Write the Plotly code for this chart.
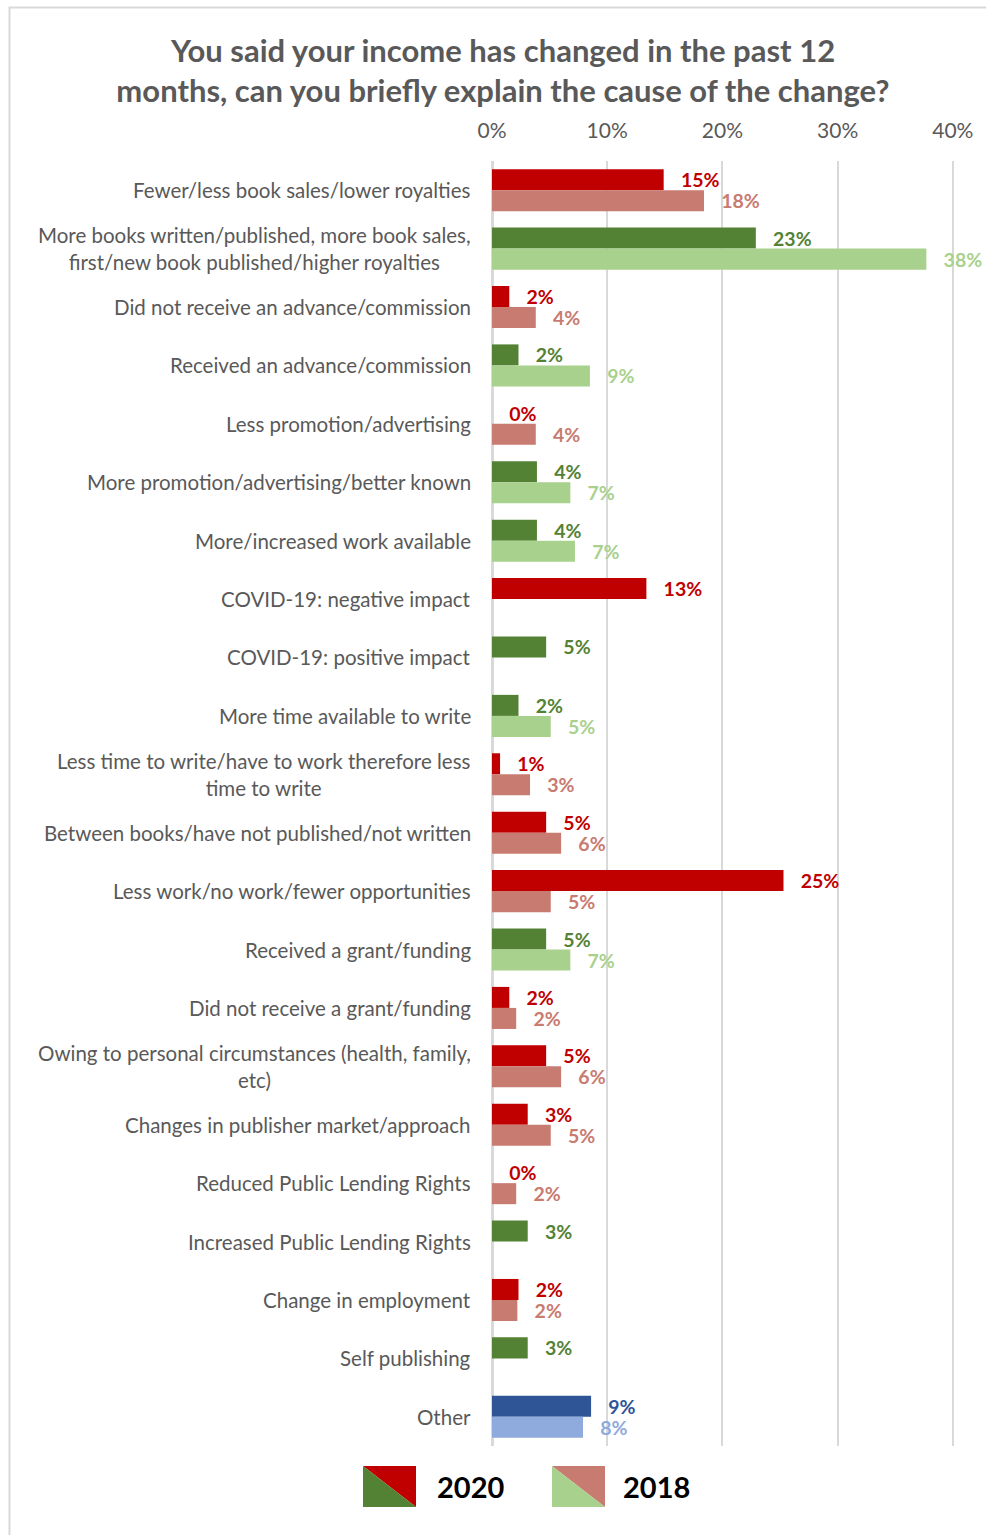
import plotly.graph_objects as go

categories = [
    "Fewer/less book sales/lower royalties",
    "More books written/published, more book sales,<br>first/new book published/higher royalties",
    "Did not receive an advance/commission",
    "Received an advance/commission",
    "Less promotion/advertising",
    "More promotion/advertising/better known",
    "More/increased work available",
    "COVID-19: negative impact",
    "COVID-19: positive impact",
    "More time available to write",
    "Less time to write/have to work therefore less<br>time to write",
    "Between books/have not published/not written",
    "Less work/no work/fewer opportunities",
    "Received a grant/funding",
    "Did not receive a grant/funding",
    "Owing to personal circumstances (health, family,<br>etc)",
    "Changes in publisher market/approach",
    "Reduced Public Lending Rights",
    "Increased Public Lending Rights",
    "Change in employment",
    "Self publishing",
    "Other",
]
# kind of change: n = negative, p = positive, o = other
kinds = ["n", "p", "n", "p", "n", "p", "p", "n", "p", "p", "n",
         "n", "n", "p", "n", "n", "n", "n", "p", "n", "p", "o"]

values_2020 = [14.9, 22.9, 1.5, 2.3, 0.0, 3.9, 3.9, 13.4, 4.7, 2.3, 0.7,
               4.7, 25.3, 4.7, 1.5, 4.7, 3.1, 0.0, 3.1, 2.3, 3.1, 8.6]
values_2018 = [18.4, 37.7, 3.8, 8.5, 3.8, 6.8, 7.2, None, None, 5.1, 3.3,
               6.0, 5.1, 6.8, 2.1, 6.0, 5.1, 2.1, None, 2.2, None, 7.9]

tick_vals = [0, 10, 20, 30, 40]
tick_text = ["0%", "10%", "20%", "30%", "40%"]

title_text = ("You said your income has changed in the past 12<br>"
              "months, can you briefly explain the cause of the change?")

colors_2020 = {"n": "#C00000", "p": "#548235", "o": "#2F5597"}
colors_2018 = {"n": "#C87B70", "p": "#A9D18E", "o": "#8FAADC"}

c20 = [colors_2020[k] for k in kinds]
c18 = [colors_2018[k] for k in kinds]

FONT = "Lato"
GREY = "#595959"

# page geometry (pixels)
W, H = 986, 1535
ML, MR, MT, MB = 492, 32, 161, 89
PW, PH = W - ML - MR, H - MT - MB


def px_x(px):
    return (px - ML) / PW


def px_y(py):
    return (H - MB - py) / PH


fig = go.Figure()
fig.add_trace(go.Bar(
    name="2020", y=categories, x=values_2020, orientation="h",
    marker=dict(color=c20, line=dict(width=0)),
    text=values_2020, texttemplate="\u00a0\u00a0\u00a0%{x:.0f}%",
    textposition="outside", cliponaxis=False, constraintext="none",
    textfont=dict(family=FONT, size=19.5, color=c20, weight="bold"),
    hoverinfo="skip",
))
fig.add_trace(go.Bar(
    name="2018", y=categories, x=values_2018, orientation="h",
    marker=dict(color=c18, line=dict(width=0)),
    text=values_2018, texttemplate="\u00a0\u00a0\u00a0%{x:.0f}%",
    textposition="outside", cliponaxis=False, constraintext="none",
    textfont=dict(family=FONT, size=19.5, color=c18, weight="bold"),
    hoverinfo="skip",
))

annotations = []
for cat in categories:
    annotations.append(dict(
        x=0, xref="paper", y=cat, yref="y", xanchor="right", yanchor="middle",
        xshift=-19, text=cat, showarrow=False, align="center",
        font=dict(family=FONT, size=20.5, color=GREY),
    ))

shapes = []
# outer border
shapes.append(dict(type="rect", xref="paper", yref="paper",
                   x0=px_x(9.5), x1=px_x(1000), y0=px_y(1600), y1=px_y(7.5),
                   line=dict(color="#D9D9D9", width=2), fillcolor="rgba(0,0,0,0)",
                   layer="below"))


def tri_path(pts):
    s = "M " + " L ".join(f"{px_x(a)},{px_y(b)}" for a, b in pts) + " Z"
    return s


legend_items = [
    ("2020", 363, colors_2020["n"], colors_2020["p"], 435),
    ("2018", 552, colors_2018["n"], colors_2018["p"], 621),
]
for label, x0, cr, cg, tx in legend_items:
    x1 = x0 + 53
    y0, y1 = 1466, 1507
    shapes.append(dict(type="path", xref="paper", yref="paper",
                       path=tri_path([(x0, y0), (x1, y0), (x1, y1)]),
                       fillcolor=cr, line=dict(width=0)))
    shapes.append(dict(type="path", xref="paper", yref="paper",
                       path=tri_path([(x0, y0), (x0, y1), (x1, y1)]),
                       fillcolor=cg, line=dict(width=0)))
    annotations.append(dict(
        x=px_x(tx), y=px_y(1487), xref="paper", yref="paper",
        xanchor="left", yanchor="middle", text=label, showarrow=False,
        font=dict(family=FONT, size=29, color="#000000", weight="bold"),
    ))

fig.update_layout(
    width=W, height=H,
    margin=dict(l=ML, r=MR, t=MT, b=MB, pad=0),
    paper_bgcolor="white", plot_bgcolor="white",
    barmode="group", bargap=0.28, bargroupgap=0,
    showlegend=False,
    title=dict(text=title_text, x=503 / W, xanchor="center",
               y=1 - 62 / H, yanchor="middle", xref="container", yref="container",
               font=dict(family=FONT, size=31, color=GREY, weight="bold")),
    xaxis=dict(side="top", range=[0, 40.1], tickvals=tick_vals, ticktext=tick_text,
               showgrid=True, gridcolor="#D9D9D9", gridwidth=2,
               zeroline=True, zerolinecolor="#D9D9D9", zerolinewidth=3,
               showline=False, ticks="", ticklabelstandoff=18,
               tickfont=dict(family=FONT, size=21, color=GREY), fixedrange=True),
    yaxis=dict(autorange="reversed", showticklabels=False, showgrid=False,
               zeroline=False, showline=False, ticks="", fixedrange=True),
    annotations=annotations,
    shapes=shapes,
)

fig.write_html("out.html", config={"displayModeBar": False},
               post_script="document.body.style.margin='0';document.body.style.padding='0';")
